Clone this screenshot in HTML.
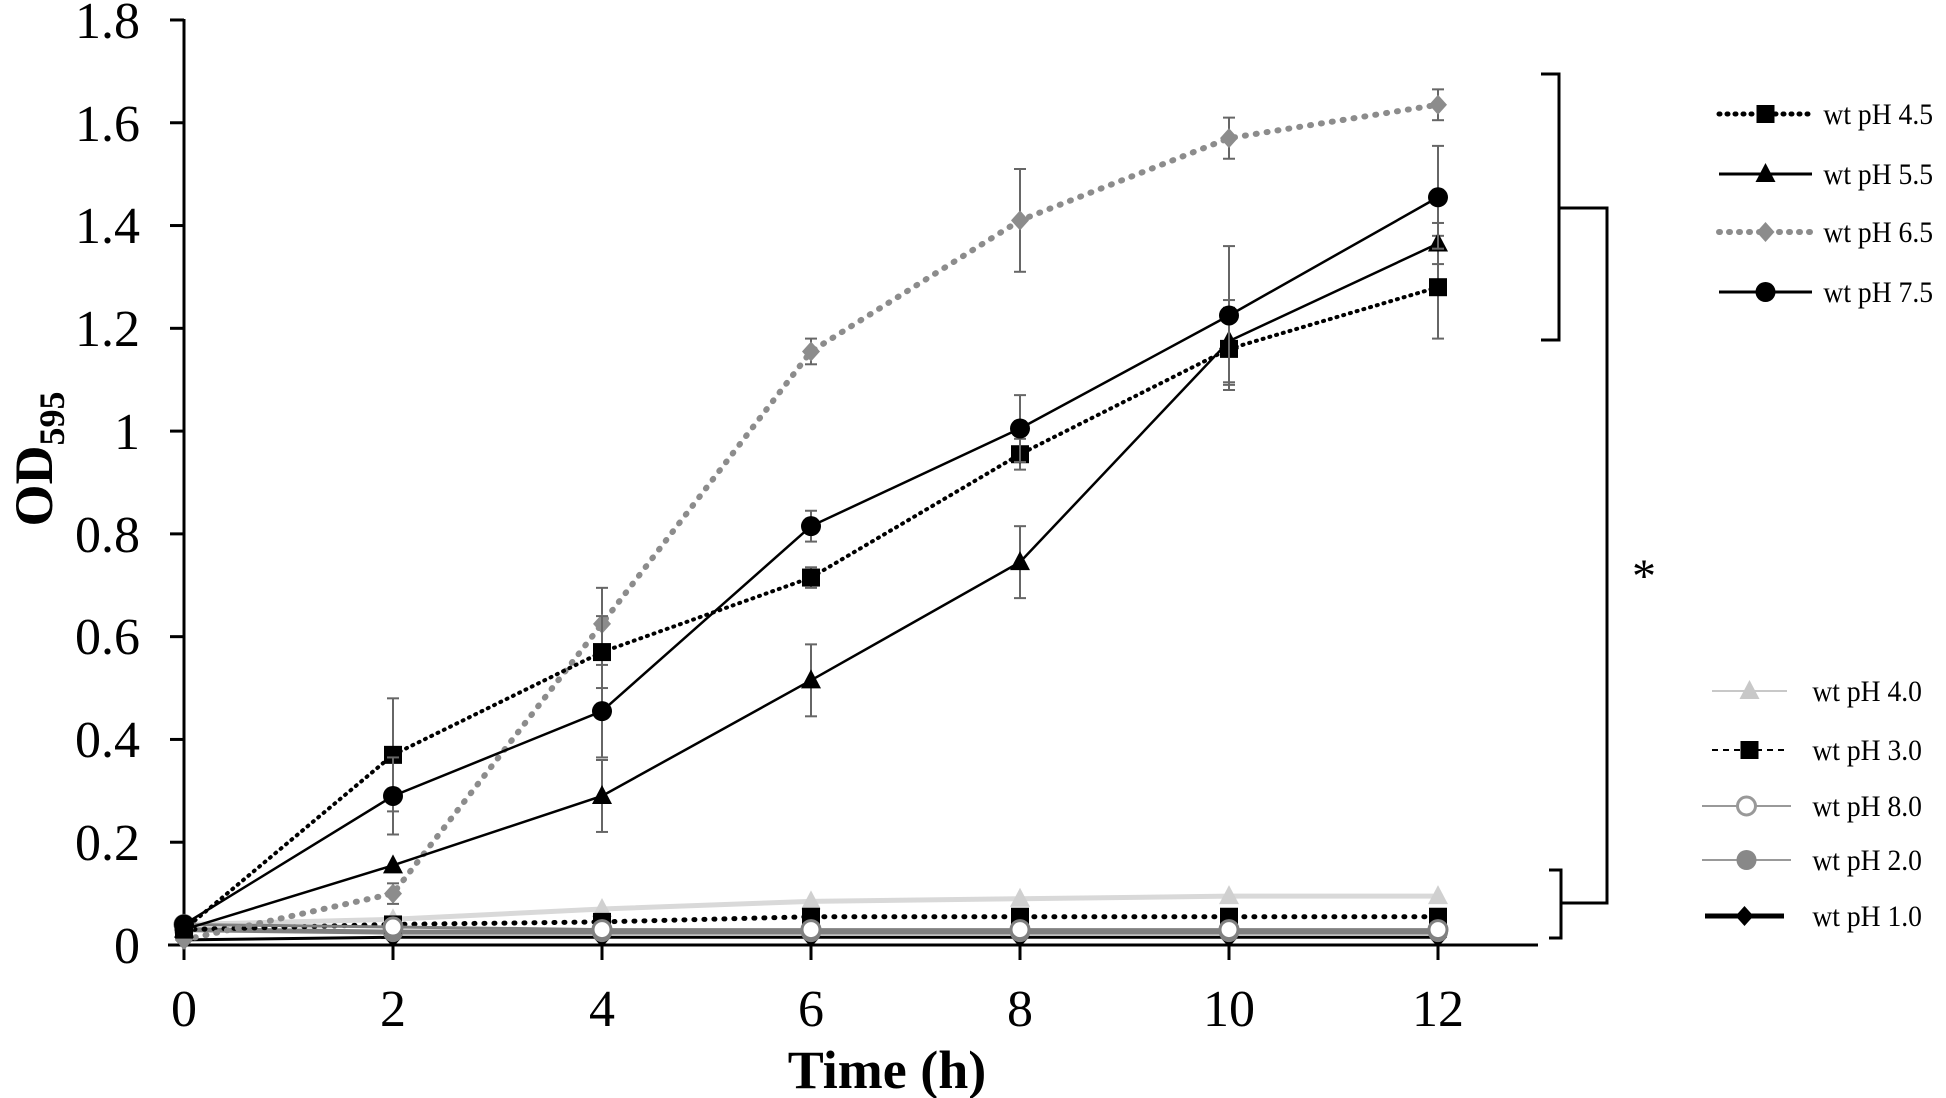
<!DOCTYPE html>
<html><head><meta charset="utf-8"><style>
html,body{margin:0;padding:0;background:#fff;}
svg{display:block;}
text{font-family:"Liberation Serif",serif;fill:#000;}
</style></head><body>
<svg id="c" width="1946" height="1098" viewBox="0 0 1946 1098" xmlns="http://www.w3.org/2000/svg">
<rect width="1946" height="1098" fill="#fff"/>
<g stroke="#000" stroke-width="3" fill="none">
<line x1="184" y1="19" x2="184" y2="958"/>
<line x1="168" y1="945" x2="1538" y2="945"/>
</g>
<g stroke="#000" stroke-width="3" id="ticks"></g>
<g font-size="52" text-anchor="end">
<text x="140" y="38">1.8</text><text x="140" y="141">1.6</text><text x="140" y="243">1.4</text>
<text x="140" y="346">1.2</text><text x="140" y="449">1</text><text x="140" y="552">0.8</text>
<text x="140" y="654">0.6</text><text x="140" y="757">0.4</text><text x="140" y="860">0.2</text>
<text x="140" y="963">0</text>
</g>
<g font-size="52" text-anchor="middle">
<text x="184" y="1026">0</text><text x="393" y="1026">2</text><text x="602" y="1026">4</text>
<text x="811" y="1026">6</text><text x="1020" y="1026">8</text><text x="1229" y="1026">10</text><text x="1438" y="1026">12</text>
</g>
<text x="887" y="1088" font-size="54" font-weight="bold" text-anchor="middle">Time (h)</text>
<text transform="translate(52,459) rotate(-90)" font-size="54" font-weight="bold" text-anchor="middle">OD<tspan font-size="36" dy="12">595</tspan></text>
<g id="series"></g>
<g stroke="#000" stroke-width="3" fill="none">
<polyline points="1541,74 1559,74 1559,340 1541,340"/>
<polyline points="1559,208 1607,208 1607,903 1561,903"/>
<polyline points="1549,870 1561,870 1561,938 1549,938"/>
</g>
<text x="1644" y="592" font-size="48" text-anchor="middle">*</text>
<g id="legend"></g>
<g font-size="30" transform="scale(0.92,1)">
<text x="1982" y="124">wt pH 4.5</text><text x="1982" y="184">wt pH 5.5</text>
<text x="1982" y="242">wt pH 6.5</text><text x="1982" y="302">wt pH 7.5</text>
<text x="1970" y="701">wt pH 4.0</text><text x="1970" y="760">wt pH 3.0</text>
<text x="1970" y="816">wt pH 8.0</text><text x="1970" y="870">wt pH 2.0</text>
<text x="1970" y="926">wt pH 1.0</text>
</g>
</svg>
<script>
const NS="http://www.w3.org/2000/svg";
const X=t=>184+t*104.5, Y=v=>945-v*513.9;
function el(p,n,a){const e=document.createElementNS(NS,n);for(const k in a)e.setAttribute(k,a[k]);p.appendChild(e);return e;}
const tk=document.getElementById('ticks');
for(let i=0;i<=9;i++)el(tk,'line',{x1:170,x2:184,y1:Y(i*0.2),y2:Y(i*0.2)});
for(let t=0;t<=12;t+=2)el(tk,'line',{x1:X(t),x2:X(t),y1:945,y2:960});
function marker(g,type,x,y,fill,stroke,s){
 s=s||1;
 if(type=='sq')el(g,'rect',{x:x-9*s,y:y-9*s,width:18*s,height:18*s,fill:fill});
 if(type=='tri')el(g,'polygon',{points:`${x},${y-11*s} ${x+10*s},${y+8*s} ${x-10*s},${y+8*s}`,fill:fill});
 if(type=='dia')el(g,'polygon',{points:`${x},${y-10*s} ${x+9*s},${y} ${x},${y+10*s} ${x-9*s},${y}`,fill:fill});
 if(type=='circ')el(g,'circle',{cx:x,cy:y,r:10*s,fill:fill});
 if(type=='ocirc')el(g,'circle',{cx:x,cy:y,r:9*s,fill:'#fff',stroke:stroke,'stroke-width':3});
}
const T=[0,2,4,6,8,10,12];
const S=[
 {v:[0.01,0.015,0.015,0.015,0.015,0.015,0.015],c:'#000',w:3,m:'dia',f:'#000'},
 {v:[0.03,0.025,0.025,0.025,0.025,0.025,0.025],c:'#808080',w:5,m:'circ',f:'#808080'},
 {v:[0.04,0.05,0.07,0.085,0.09,0.095,0.095],c:'#d9d9d9',w:5,m:'tri',f:'#d0d0d0'},
 {v:[0.03,0.04,0.045,0.055,0.055,0.055,0.055],c:'#000',w:5,d:'1 9',cap:'round',m:'sq',f:'#000'},
 {v:[0.04,0.035,0.03,0.03,0.03,0.03,0.03],c:'#808080',w:3,m:'ocirc',f:'#fff'},
 {v:[0.01,0.1,0.625,1.155,1.41,1.57,1.635],e:[0,0.02,0.07,0.025,0.1,0.04,0.03],c:'#8c8c8c',w:6,d:'1 10',cap:'round',m:'dia',f:'#8c8c8c'},
 {v:[0.03,0.37,0.57,0.715,0.955,1.16,1.28],e:[0,0.11,0.07,0.02,0.03,0.08,0.1],c:'#000',w:4,d:'1 6',cap:'round',m:'sq',f:'#000'},
 {v:[0.03,0.155,0.29,0.515,0.745,1.175,1.365],e:[0,0,0.07,0.07,0.07,0.08,0.04],c:'#000',w:2.5,m:'tri',f:'#000'},
 {v:[0.04,0.29,0.455,0.815,1.005,1.225,1.455],e:[0,0.075,0.09,0.03,0.065,0.135,0.1],c:'#000',w:2.5,m:'circ',f:'#000'},
];
const g=document.getElementById('series');
for(const s of S){
 if(s.e)s.e.forEach((e,i)=>{if(!e)return;const x=X(T[i]);
  el(g,'line',{x1:x,x2:x,y1:Y(s.v[i]-e),y2:Y(s.v[i]+e),stroke:'#666','stroke-width':2});
  el(g,'line',{x1:x-6,x2:x+6,y1:Y(s.v[i]-e),y2:Y(s.v[i]-e),stroke:'#666','stroke-width':2});
  el(g,'line',{x1:x-6,x2:x+6,y1:Y(s.v[i]+e),y2:Y(s.v[i]+e),stroke:'#666','stroke-width':2});});
 const a={points:T.map((t,i)=>X(t)+','+Y(s.v[i])).join(' '),fill:'none',stroke:s.c,'stroke-width':s.w};
 if(s.d)a['stroke-dasharray']=s.d; if(s.cap)a['stroke-linecap']=s.cap;
 el(g,'polyline',a);
 T.forEach((t,i)=>marker(g,s.m,X(t),Y(s.v[i]),s.f,s.c));
}
const L=document.getElementById('legend');
const LG=[
 {y:114,x1:1719,x2:1812,c:'#000',w:5,d:'1 7',cap:'round',m:'sq',f:'#000'},
 {y:174,x1:1719,x2:1812,c:'#000',w:3,m:'tri',f:'#000'},
 {y:232,x1:1719,x2:1812,c:'#8c8c8c',w:6,d:'1 9',cap:'round',m:'dia',f:'#8c8c8c'},
 {y:292,x1:1719,x2:1812,c:'#000',w:3,m:'circ',f:'#000'},
 {y:691,x1:1712,x2:1787,c:'#c8c8c8',w:2,m:'tri',f:'#c8c8c8'},
 {y:750,x1:1712,x2:1787,c:'#000',w:2,d:'6 5',m:'sq',f:'#000'},
 {y:806,x1:1702,x2:1791,c:'#999',w:2,m:'ocirc',f:'#fff'},
 {y:860,x1:1702,x2:1791,c:'#999',w:2,m:'circ',f:'#888'},
 {y:916,x1:1705,x2:1784,c:'#000',w:5,m:'dia',f:'#000'},
];
for(const l of LG){
 const a={x1:l.x1,x2:l.x2,y1:l.y,y2:l.y,stroke:l.c,'stroke-width':l.w};
 if(l.d)a['stroke-dasharray']=l.d; if(l.cap)a['stroke-linecap']=l.cap;
 el(L,'line',a); marker(L,l.m,(l.x1+l.x2)/2,l.y,l.f,l.c);
}
</script>
</body></html>
